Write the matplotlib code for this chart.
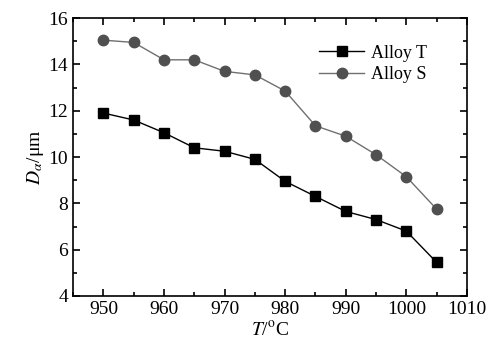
import numpy as np
import matplotlib
matplotlib.use("Agg")
import matplotlib.pyplot as plt
from matplotlib.ticker import MultipleLocator

plt.rcParams['font.family'] = ['Liberation Serif', 'DejaVu Serif']
plt.rcParams['mathtext.fontset'] = 'stix'

temps = [950, 955, 960, 965, 970, 975, 980, 985, 990, 995, 1000, 1005]
alloy_t = [11.9, 11.6, 11.05, 10.4, 10.25, 9.9, 8.95, 8.3, 7.65, 7.3, 6.8, 5.45]
alloy_s = [15.05, 14.95, 14.2, 14.2, 13.7, 13.55, 12.85, 11.35, 10.9, 10.1, 9.15, 7.75]

fig = plt.figure(figsize=(4.91, 3.49), dpi=100)
ax = fig.add_axes([0.149, 0.152, 0.802, 0.796])

ax.plot(temps, alloy_t, color='black', lw=1.0, marker='s', ms=7, mfc='black', mec='black', label='Alloy T')
ax.plot(temps, alloy_s, color='#707070', lw=1.0, marker='o', ms=7.5, mfc='#505050', mec='#505050', label='Alloy S')

ax.set_xlim(945, 1010)
ax.set_ylim(4, 16)
ax.xaxis.set_major_locator(MultipleLocator(10))
ax.xaxis.set_minor_locator(MultipleLocator(5))
ax.yaxis.set_major_locator(MultipleLocator(2))
ax.yaxis.set_minor_locator(MultipleLocator(1))
ax.tick_params(which='both', direction='in', top=True, right=True, width=1.2, labelsize=14)
ax.tick_params(which='major', length=5)
ax.tick_params(which='minor', length=3)
for s in ax.spines.values():
    s.set_linewidth(1.2)

ax.set_xlabel(r'$T$/$^{\mathrm{o}}$C', fontsize=14, labelpad=2)
ax.set_ylabel(r'$D_{\alpha}$/μm', fontsize=14, labelpad=2)

ax.legend(loc='upper left', frameon=False, fontsize=13, bbox_to_anchor=(0.625, 0.905),
          handlelength=2.5, handletextpad=0.35, borderaxespad=0, borderpad=0,
          labelspacing=0.25)

fig.savefig('out.png', dpi=100)
